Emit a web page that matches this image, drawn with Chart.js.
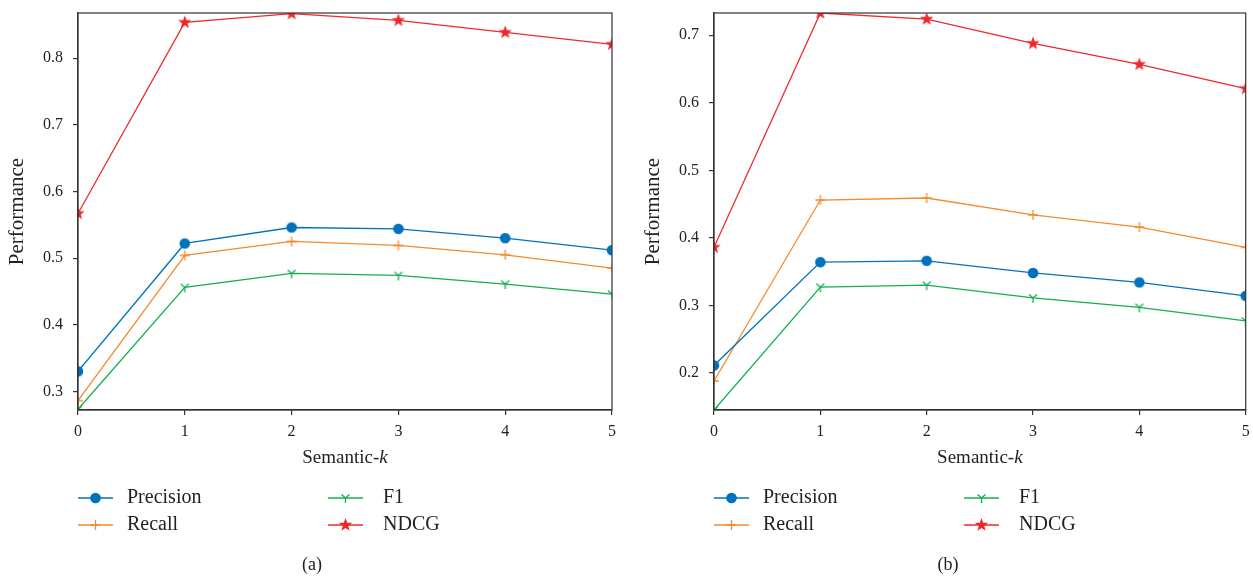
<!DOCTYPE html>
<html>
<head>
<meta charset="utf-8">
<script src="https://cdn.jsdelivr.net/npm/chart.js@4/dist/chart.umd.min.js"></script>
<style>
  html, body { margin: 0; padding: 0; background: #fff; }
  #wrap { position: relative; width: 1253px; height: 578px; overflow: hidden; }
  #ca { position: absolute; left: 0; top: 0; }
  #cb { position: absolute; left: 636px; top: 0; }
</style>
</head>
<body>
<div id="wrap">
  <div id="ca" style="width:626px;height:578px"><canvas id="chartA"></canvas></div>
  <div id="cb" style="width:617px;height:578px"><canvas id="chartB"></canvas></div>
</div>
<script>
// ---------- data ----------
const kValues = [0, 1, 2, 3, 4, 5];
const seriesNames = ["Precision", "Recall", "F1", "NDCG"];

const precisionA = [0.330, 0.522, 0.546, 0.544, 0.530, 0.512];
const recallA    = [0.286, 0.504, 0.525, 0.519, 0.505, 0.485];
const f1A        = [0.273, 0.456, 0.477, 0.474, 0.461, 0.446];
const ndcgA      = [0.567, 0.854, 0.867, 0.857, 0.839, 0.821];

const precisionB = [0.211, 0.364, 0.366, 0.348, 0.334, 0.314];
const recallB    = [0.188, 0.456, 0.459, 0.434, 0.416, 0.386];
const f1B        = [0.145, 0.327, 0.330, 0.311, 0.297, 0.277];
const ndcgB      = [0.386, 0.733, 0.724, 0.688, 0.657, 0.621];

const yTicksA = [0.3, 0.4, 0.5, 0.6, 0.7, 0.8];
const yTicksB = [0.2, 0.3, 0.4, 0.5, 0.6, 0.7];
const xTicks  = [0, 1, 2, 3, 4, 5];

const yRangeA = [0.272, 0.868];
const yRangeB = [0.145, 0.733];

// ---------- styles ----------
const COLORS = { Precision: "#0072BD", Recall: "#F58A2E", F1: "#14AE4F", NDCG: "#EC2A2E" };
const SERIF = "'Liberation Serif', 'DejaVu Serif', serif";
const AXIS_COLOR = "#333333";

function drawMarker(ctx, type, x, y, color) {
  ctx.save();
  ctx.strokeStyle = color; ctx.fillStyle = color; ctx.lineWidth = 1.3;
  ctx.beginPath();
  if (type === "Precision") {
    ctx.arc(x, y, 5.3, 0, Math.PI * 2); ctx.fill();
  } else if (type === "Recall") {
    ctx.moveTo(x - 5, y); ctx.lineTo(x + 5, y);
    ctx.moveTo(x, y - 5); ctx.lineTo(x, y + 5); ctx.stroke();
  } else if (type === "F1") {
    ctx.moveTo(x, y); ctx.lineTo(x - 4, y - 3.5);
    ctx.moveTo(x, y); ctx.lineTo(x + 4, y - 3.5);
    ctx.moveTo(x, y); ctx.lineTo(x, y + 5); ctx.stroke();
  } else if (type === "NDCG") {
    const R = 7, r = 2.9;
    for (let i = 0; i < 10; i++) {
      const ang = -Math.PI / 2 + i * Math.PI / 5;
      const rad = i % 2 === 0 ? R : r;
      const px = x + rad * Math.cos(ang), py = y + rad * Math.sin(ang);
      if (i === 0) ctx.moveTo(px, py); else ctx.lineTo(px, py);
    }
    ctx.closePath(); ctx.fill();
  }
  ctx.restore();
}

function markerCanvas(type) {
  const c = document.createElement("canvas");
  c.width = 18; c.height = 18;
  drawMarker(c.getContext("2d"), type, 9, 9, COLORS[type]);
  return c;
}
const pointStyles = {};
seriesNames.forEach(n => pointStyles[n] = markerCanvas(n));

const overlayPlugin = {
  id: "overlay",
  afterDraw(chart, args, opts) {
    const ctx = chart.ctx;
    const a = chart.chartArea;
    ctx.save();
    // box border
    ctx.strokeStyle = AXIS_COLOR; ctx.lineWidth = 1.2;
    ctx.strokeRect(a.left, a.top, a.right - a.left, a.bottom - a.top);
    // x title: Semantic-k (k italic)
    ctx.fillStyle = "#222";
    ctx.textBaseline = "middle";
    const f1 = "19px " + SERIF, f2 = "italic 19px " + SERIF;
    ctx.font = f1; const w1 = ctx.measureText("Semantic-").width;
    ctx.font = f2; const w2 = ctx.measureText("k").width;
    const cx = (a.left + a.right) / 2;
    let sx = cx - (w1 + w2) / 2;
    ctx.textAlign = "left";
    ctx.font = f1; ctx.fillText("Semantic-", sx, 458);
    ctx.font = f2; ctx.fillText("k", sx + w1, 458);
    // legend
    const cols = [{ lx: 78, tx: 127 }, { lx: 328, tx: 383 }];
    const rows = [498, 525];
    const order = [["Precision", 0, 0], ["Recall", 0, 1], ["F1", 1, 0], ["NDCG", 1, 1]];
    order.forEach(([name, c, r]) => {
      const col = cols[c], y = rows[r];
      ctx.strokeStyle = COLORS[name]; ctx.lineWidth = 1.3;
      ctx.beginPath(); ctx.moveTo(col.lx, y); ctx.lineTo(col.lx + 35, y); ctx.stroke();
      drawMarker(ctx, name, col.lx + 17.5, y, COLORS[name]);
      ctx.fillStyle = "#222"; ctx.font = "20px " + SERIF;
      ctx.textAlign = "left"; ctx.fillText(name, col.tx, y);
    });
    // caption
    ctx.textAlign = "center";
    ctx.font = "18px " + SERIF;
    ctx.fillText(opts.caption, 312, 565);
    ctx.restore();
  }
};

function makeChart(id, data, yRange, yTicks, caption, padRight) {
  const datasets = seriesNames.map((n, i) => ({
    label: n,
    data: kValues.map((k, j) => ({ x: k, y: data[i][j] })),
    borderColor: COLORS[n],
    backgroundColor: COLORS[n],
    borderWidth: 1.3,
    pointStyle: pointStyles[n],
    pointRadius: 6,
    tension: 0,
    clip: 0
  }));
  return new Chart(document.getElementById(id), {
    type: "line",
    data: { datasets },
    plugins: [overlayPlugin],
    options: {
      responsive: true,
      maintainAspectRatio: false,
      animation: false,
      events: [],
      layout: { padding: { left: 0, top: 13, right: padRight, bottom: 118 } },
      plugins: { legend: { display: false }, tooltip: { enabled: false }, overlay: { caption } },
      scales: {
        x: {
          type: "linear", min: 0, max: 5,
          afterBuildTicks: s => { s.ticks = xTicks.map(v => ({ value: v })); },
          afterFit: s => { s.height = 50; s.paddingLeft = 0; s.paddingRight = 0; },
          grid: { drawOnChartArea: false, tickLength: 5, color: AXIS_COLOR, lineWidth: 1.2 },
          border: { color: AXIS_COLOR, width: 1.2 },
          ticks: { color: "#222", font: { family: SERIF, size: 16 }, padding: 7, maxRotation: 0 }
        },
        y: {
          type: "linear", min: yRange[0], max: yRange[1],
          afterBuildTicks: s => { s.ticks = yTicks.map(v => ({ value: v })); },
          afterFit: s => { s.width = 78; s.paddingTop = 0; s.paddingBottom = 0; },
          grid: { drawOnChartArea: false, tickLength: 5, color: AXIS_COLOR, lineWidth: 1.2 },
          border: { color: AXIS_COLOR, width: 1.2 },
          ticks: { color: "#222", font: { family: SERIF, size: 16 }, padding: 10,
                   callback: v => Number(v).toFixed(1) },
          title: { display: true, text: "Performance", color: "#222",
                   font: { family: SERIF, size: 21 }, padding: { top: 5, bottom: 0 } }
        }
      }
    }
  });
}

makeChart("chartA", [precisionA, recallA, f1A, ndcgA], yRangeA, yTicksA, "(a)", 14);
makeChart("chartB", [precisionB, recallB, f1B, ndcgB], yRangeB, yTicksB, "(b)", 6);
</script>
</body>
</html>
